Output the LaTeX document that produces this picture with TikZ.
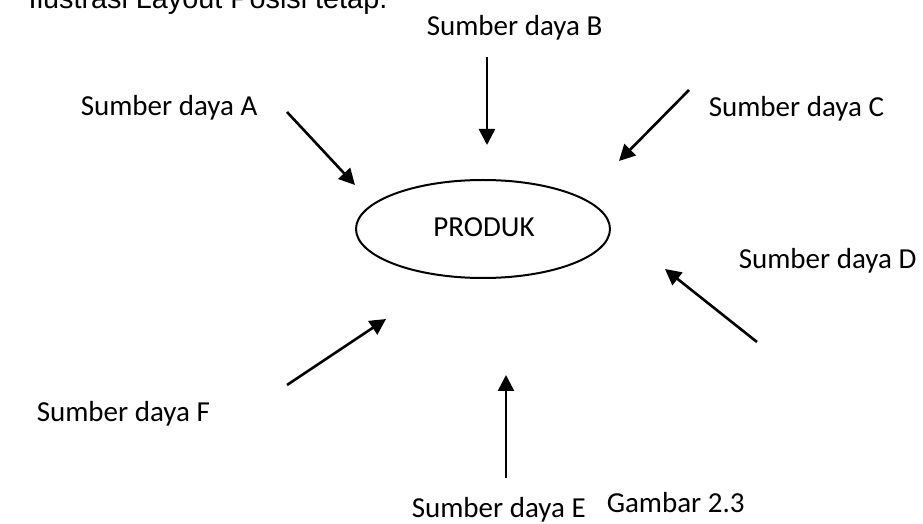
\documentclass[tikz,border=0pt]{standalone}
\usepackage{fontspec}
\setmainfont{Carlito}
\newfontfamily\titlefont{Liberation Sans}
\usetikzlibrary{arrows.meta,positioning,shapes.geometric}
\tikzset{every picture/.style={line width=0.75pt}}

\begin{document}
\begin{tikzpicture}[x=0.5pt,y=-0.5pt,
    res/.style={font=\fontsize{14.5}{17}\selectfont, inner sep=0pt, anchor=base west},
    feed/.style={-{Triangle[length=8pt,width=8pt]}, line width=1.3pt}]
    \useasboundingbox (0,0) rectangle (923,524);
    \clip (0,0) rectangle (923,524);
    \node[res, font=\titlefont\fontsize{14.4}{17}\selectfont] (title) at (28,9) {Ilustrasi Layout Posisi tetap.};
    \node[draw, ellipse, inner sep=0pt, minimum width=127pt, minimum height=49pt, line width=1pt] (produk) at (483,229) {};
    \node[res, anchor=base] (plabel) at (484,237) {PRODUK};
    \node[res] (resA) at (80,116) {Sumber daya A};
    \node[res] (resB) at (426,36) {Sumber daya B};
    \node[res] (resC) at (708,117) {Sumber daya C};
    \node[res] (resD) at (738,269) {Sumber daya D};
    \node[res] (resE) at (411,517) {Sumber daya E};
    \node[res] (resF) at (36,422) {Sumber daya F};
    \node[res] (fig) at (606,513) {Gambar 2.3};
    % arrow ends
    \coordinate (a0) at (287,112); \coordinate (a1) at (355,185);
    \coordinate (b0) at (487,57);  \coordinate (b1) at (487,145);
    \coordinate (c0) at (689,90);  \coordinate (c1) at (619,161);
    \coordinate (d0) at (757,342); \coordinate (d1) at (665,269);
    \coordinate (e0) at (506,478); \coordinate (e1) at (506,375);
    \coordinate (f0) at (287,385); \coordinate (f1) at (386,319);
    \foreach \s in {a,b,c,d,e,f}
        \draw[feed] (\s0) -- (\s1);
\end{tikzpicture}
\end{document}
